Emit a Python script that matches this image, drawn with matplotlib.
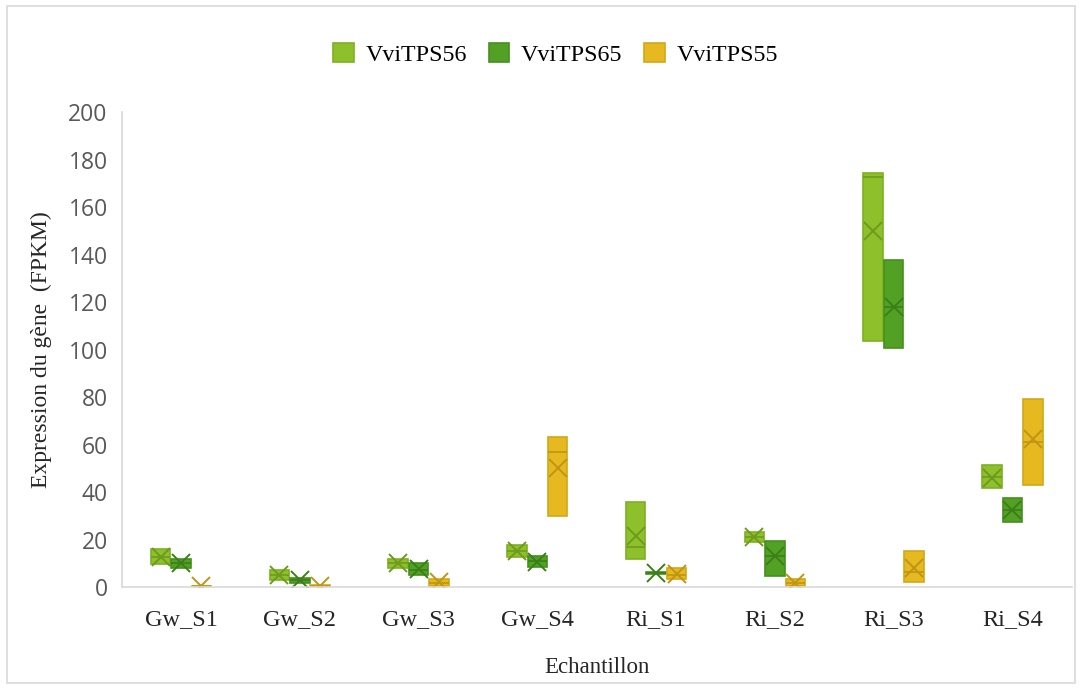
import numpy as np
import matplotlib
matplotlib.use("Agg")
import matplotlib.pyplot as plt
from matplotlib.patches import Patch, Rectangle

# Samples on the x axis
samples = ["Gw_S1", "Gw_S2", "Gw_S3", "Gw_S4", "Ri_S1", "Ri_S2", "Ri_S3", "Ri_S4"]
genes = ["VviTPS56", "VviTPS65", "VviTPS55"]

# Box statistics per gene (FPKM): first quartile, median, third quartile, mean
tps56_q1 = [9.5, 3.0, 8.0, 12.5, 12.0, 19.0, 103.5, 41.5]
tps56_med = [12.5, 5.0, 10.0, 15.0, 17.0, 21.0, 172.5, 46.5]
tps56_q3 = [16.0, 7.0, 12.0, 17.5, 36.0, 23.0, 174.5, 51.5]
tps56_mean = [12.5, 5.0, 10.0, 15.0, 21.5, 21.0, 150.0, 46.0]

tps65_q1 = [8.0, 1.5, 5.0, 8.5, 5.5, 4.5, 100.5, 27.5]
tps65_med = [10.0, 3.0, 7.0, 11.0, 6.0, 13.0, 118.0, 32.5]
tps65_q3 = [12.0, 4.0, 10.0, 13.0, 6.5, 19.5, 137.5, 37.5]
tps65_mean = [10.0, 3.0, 7.5, 10.5, 6.0, 13.0, 118.0, 32.5]

tps55_q1 = [0.0, 0.0, 0.5, 30.0, 3.5, 0.5, 2.0, 43.0]
tps55_med = [0.3, 0.5, 1.5, 57.0, 5.0, 1.5, 6.5, 61.0]
tps55_q3 = [0.6, 1.0, 3.5, 63.0, 8.0, 3.5, 15.0, 79.0]
tps55_mean = [0.3, 0.5, 2.0, 50.0, 5.5, 1.5, 8.0, 62.5]

yticks = [0, 20, 40, 60, 80, 100, 120, 140, 160, 180, 200]

fills = ["#8DC02A", "#52A125", "#E6B920"]
edges = ["#7FB020", "#45901E", "#D2A818"]
inner = ["#6E9A1E", "#3B7F18", "#BF9514"]

series = [
    (tps56_q1, tps56_med, tps56_q3, tps56_mean),
    (tps65_q1, tps65_med, tps65_q3, tps65_mean),
    (tps55_q1, tps55_med, tps55_q3, tps55_mean),
]

fig = plt.figure(figsize=(10.81, 6.89), dpi=100)
ax = fig.add_axes([0.1125, 0.148, 0.879, 0.6894])

# Light border around the whole chart area
fig.patches.append(Rectangle((7 / 1081, 6 / 689), 1068 / 1081, 677 / 689,
                             transform=fig.transFigure, fill=False,
                             edgecolor="#D9D9D9", linewidth=1.2))

x = np.arange(len(samples))
offsets = [-0.172, 0.0, 0.172]
width = 0.164

for i, (q1, med, q3, mean) in enumerate(series):
    stats = []
    for a, m, b, mu in zip(q1, med, q3, mean):
        stats.append(dict(q1=a, med=m, q3=b, mean=mu, whislo=a, whishi=b, fliers=[]))
    ax.bxp(stats, positions=x + offsets[i], widths=width, patch_artist=True,
           showmeans=True, showcaps=False, showfliers=False, manage_ticks=False,
           boxprops=dict(facecolor=fills[i], edgecolor=edges[i], linewidth=1.2),
           medianprops=dict(color=inner[i], linewidth=1.2),
           whiskerprops=dict(color=edges[i], linewidth=0),
           meanprops=dict(marker="x", markersize=13, markeredgewidth=1.4,
                          markeredgecolor=inner[i]))

ax.set_xlim(-0.5, len(samples) - 0.5)
ax.set_ylim(0, 200)
ax.set_yticks(yticks)
ax.set_yticklabels([str(t) for t in yticks], family="Open Sans", fontsize=16.5,
                   color="#595959")
ax.set_xticks(x)
ax.set_xticklabels(samples, family="Liberation Serif", fontsize=17.5, color="#262626")
ax.tick_params(axis="both", length=0)
ax.tick_params(axis="y", pad=10)
ax.tick_params(axis="x", pad=16)

for side in ["top", "right"]:
    ax.spines[side].set_visible(False)
ax.spines["left"].set_color("#D9D9D9")
ax.spines["bottom"].set_color("#D9D9D9")
ax.spines["left"].set_linewidth(1.2)
ax.spines["bottom"].set_linewidth(1.2)

ax.set_xlabel("Echantillon", family="Liberation Serif", fontsize=16.5,
              color="#262626", labelpad=19)
ax.set_ylabel("Expression du gène  (FPKM)", family="Liberation Serif", fontsize=17,
              color="#262626", labelpad=12)

handles = [Patch(facecolor=fills[i], edgecolor=edges[i], linewidth=1.2, label=genes[i])
           for i in range(3)]
fig.legend(handles=handles, loc="center", bbox_to_anchor=(0.514, 0.921), ncol=3,
           frameon=False, prop=dict(family="Liberation Serif", size=17.3),
           handlelength=0.85, handleheight=0.85, handletextpad=0.5, columnspacing=0.9)

fig.savefig("out.png", dpi=100)
